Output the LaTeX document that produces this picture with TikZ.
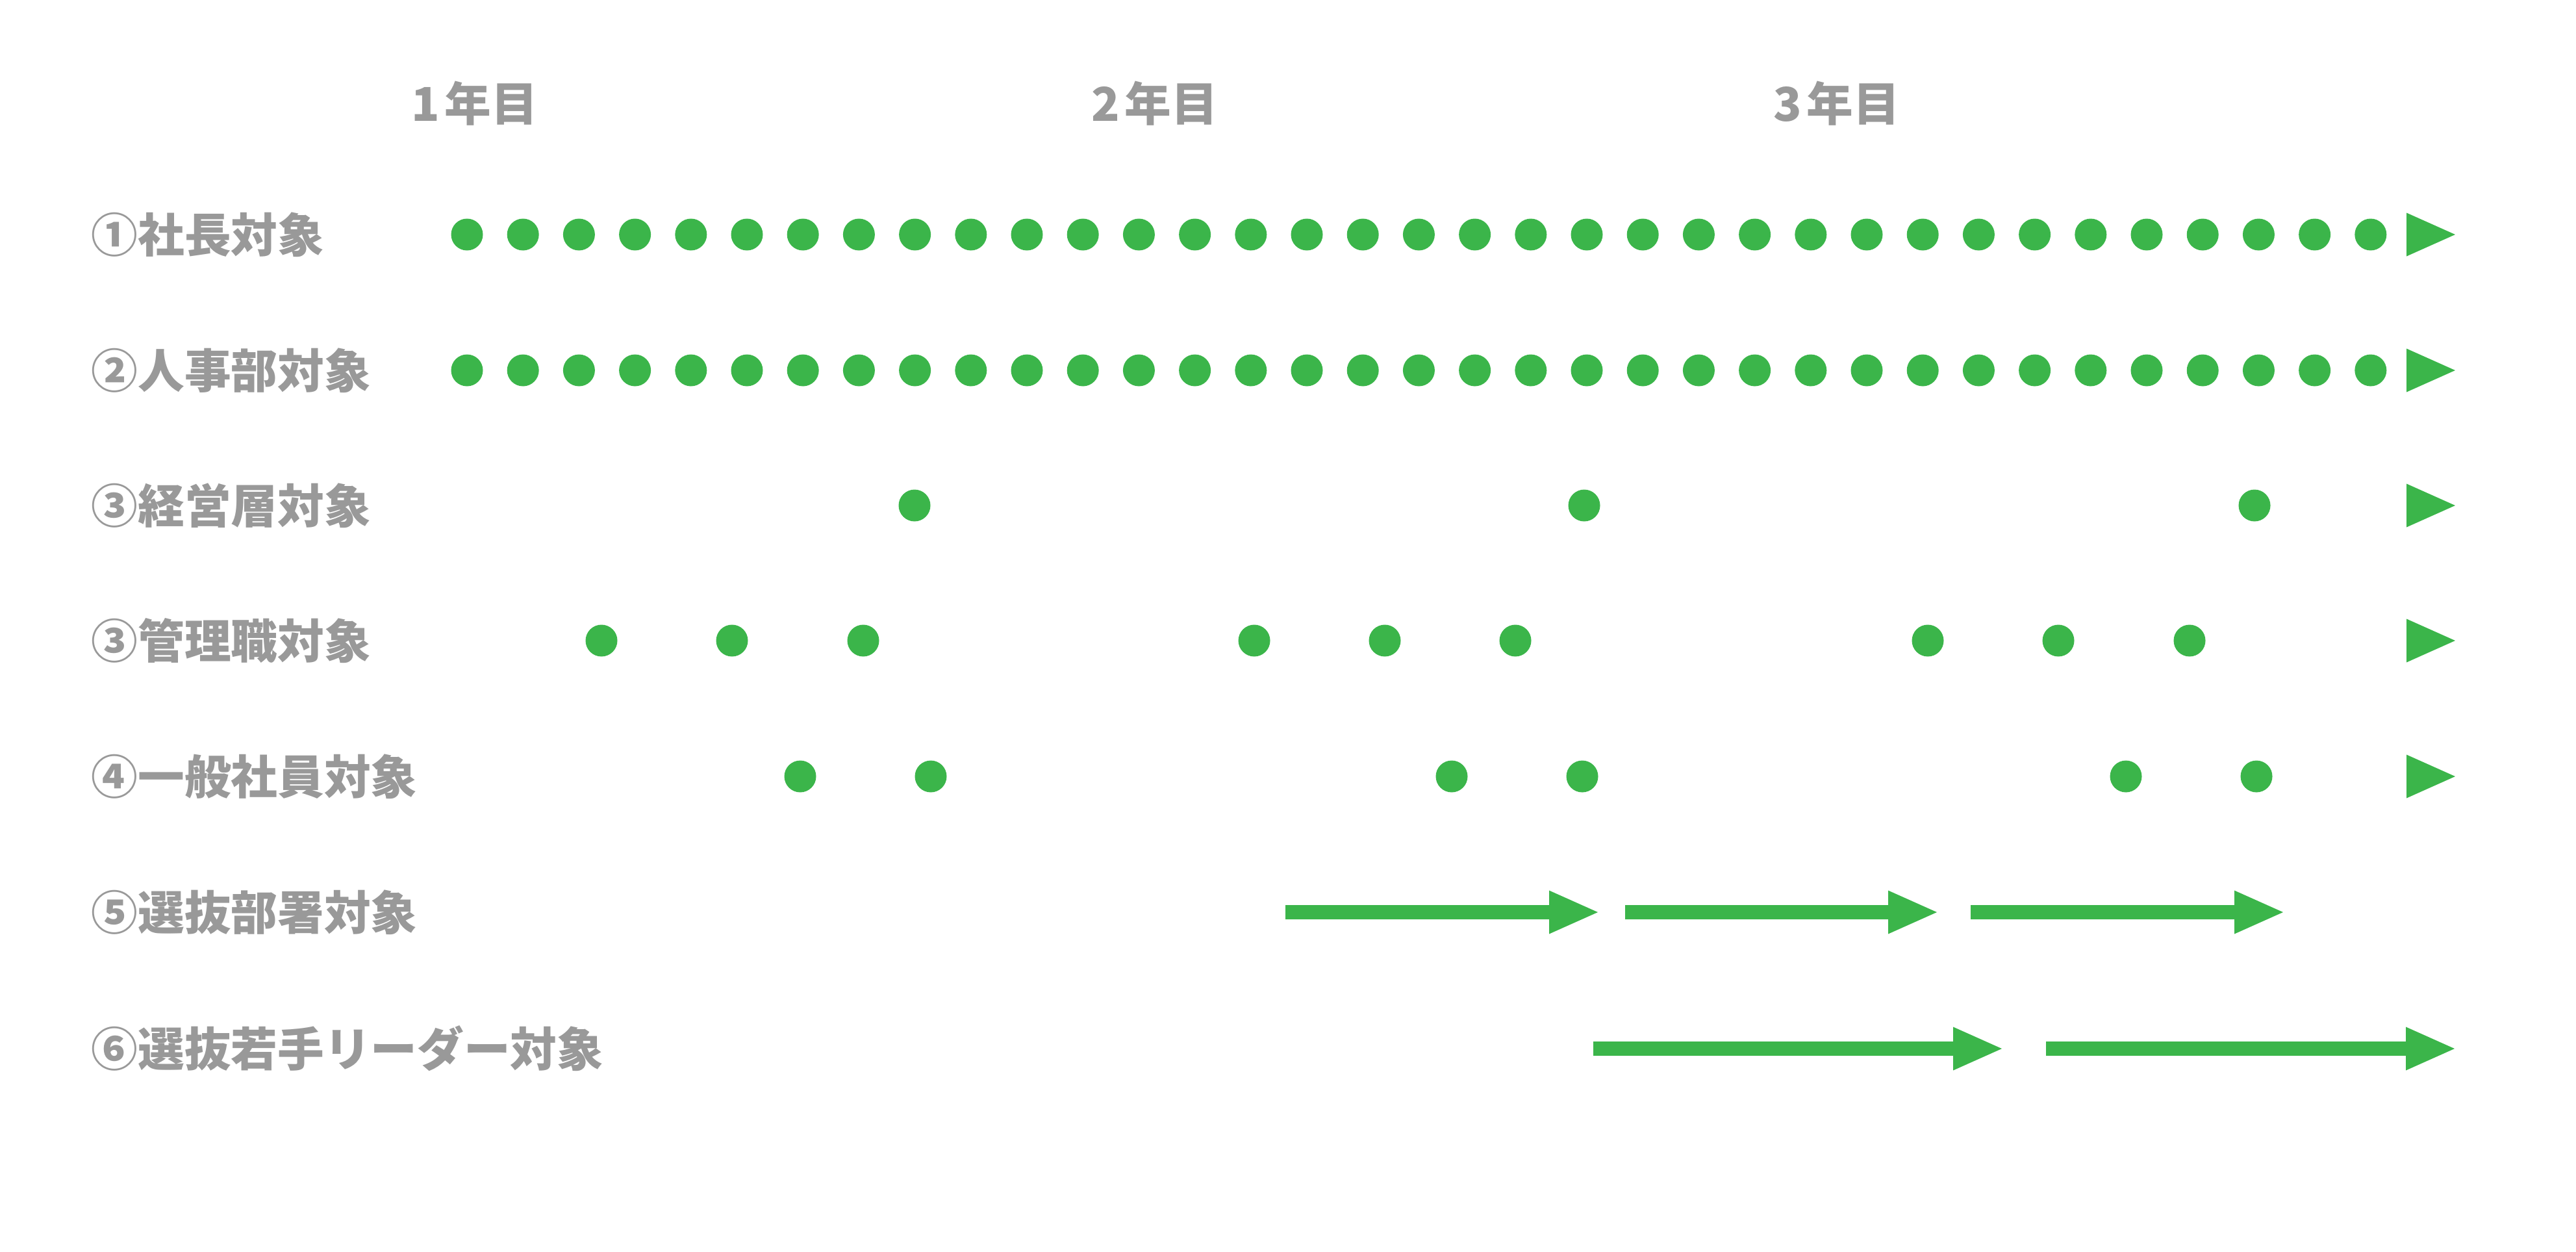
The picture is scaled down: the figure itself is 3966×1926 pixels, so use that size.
\documentclass[tikz,border=0pt]{standalone}
\usepackage{fontspec}
\setmainfont{Noto Sans CJK JP}
\usepackage{tikz}
\usetikzlibrary{arrows.meta}

\definecolor{planGreen}{RGB}{59,181,74}
\definecolor{planGray}{RGB}{153,153,153}

\tikzset{
  rowlabel/.style={anchor=west, inner sep=0pt, text=planGray,
    font=\fontsize{20.4pt}{24pt}\selectfont\bfseries},
  yearlabel/.style={inner sep=0pt, text=planGray,
    font=\fontsize{20.4pt}{24pt}\selectfont\bfseries},
  session/.style={circle, fill=planGreen, inner sep=0pt, minimum size=4.9mm},
  period/.style={draw=planGreen, line width=2.2mm,
    -{Triangle[length=7.5mm, width=6.7mm, line width=0pt]}},
}

\begin{document}
\begin{tikzpicture}[x=0.1mm, y=-0.1mm]
        \useasboundingbox (0,0) rectangle (3966,1926);

        %%% years %%%
        \node[yearlabel] (y1) at (731,159) {1\hspace{0.1em}年目};
        \node[yearlabel] (y2) at (1778,159) {2\hspace{0.1em}年目};
        \node[yearlabel] (y3) at (2828,159) {3\hspace{0.1em}年目};

        %%% labels %%%
        \node[rowlabel] (l1) at (140,361) {①社長対象};
        \node[rowlabel] (l2) at (140,570) {②人事部対象};
        \node[rowlabel] (l3) at (140,778) {③経営層対象};
        \node[rowlabel] (l4) at (140,986) {③管理職対象};
        \node[rowlabel] (l5) at (140,1195) {④一般社員対象};
        \node[rowlabel] (l6) at (140,1404) {⑤選抜部署対象};
        \node[rowlabel] (l7) at (140,1614) {⑥選抜若手リーダー対象};

        %%% monthly rows %%%
        \foreach \i in {0,...,34}{
          \node[session] (a\i) at ({719+86.2*\i},361) {};
          \node[session] (b\i) at ({719+86.2*\i},570) {};
        }

        %%% 経営層 %%%
        \foreach \x [count=\i] in {1408, 2439, 3471}{ \node[session] (c\i) at (\x,778) {}; }

        %%% 管理職 %%%
        \foreach \x [count=\i] in {926, 1127, 1329, 1931, 2132, 2333, 2968, 3169, 3371}{
          \node[session] (d\i) at (\x,986) {};
        }

        %%% 一般社員 %%%
        \foreach \x [count=\i] in {1232, 1433, 2235, 2436, 3273, 3474}{
          \node[session] (e\i) at (\x,1195) {};
        }

        %%% row ends %%%
        \foreach \y in {361, 570, 778, 986, 1195}{
          \fill[planGreen] (3705,{\y-33.5}) -- (3780,\y) -- (3705,{\y+33.5}) -- cycle;
        }

        %%% 選抜部署 %%%
        \coordinate (f1s) at (1979,1404); \coordinate (f1e) at (2460,1404);
        \coordinate (f2s) at (2502,1404); \coordinate (f2e) at (2982,1404);
        \coordinate (f3s) at (3034,1404); \coordinate (f3e) at (3515,1404);
        \foreach \i in {1,2,3}{ \draw[period] (f\i s) -- (f\i e); }

        %%% 選抜若手リーダー %%%
        \coordinate (g1s) at (2453,1614); \coordinate (g1e) at (3082,1614);
        \coordinate (g2s) at (3150,1614); \coordinate (g2e) at (3779,1614);
        \foreach \i in {1,2}{ \draw[period] (g\i s) -- (g\i e); }

\end{tikzpicture}
\end{document}
